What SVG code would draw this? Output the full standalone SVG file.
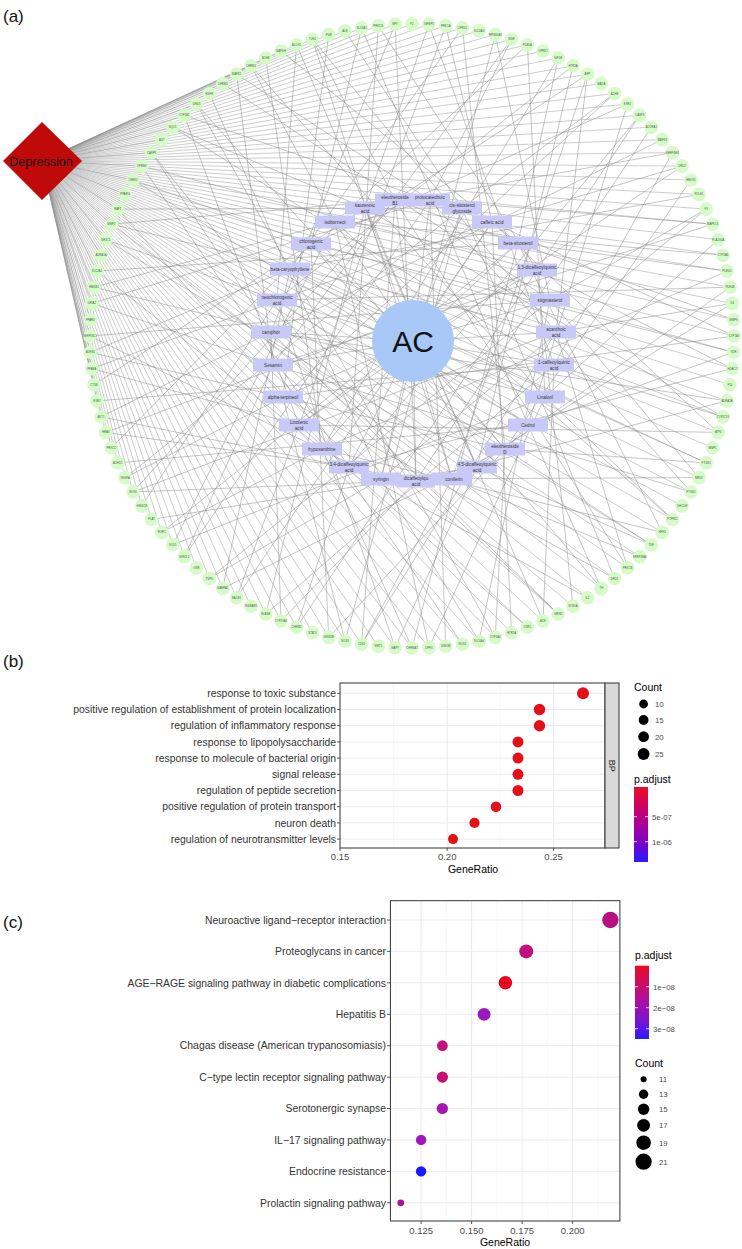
<svg xmlns="http://www.w3.org/2000/svg" width="742" height="1249" viewBox="0 0 742 1249">
<defs>
<style>
text{font-family:"Liberation Sans",Arial,sans-serif}
.pl{font-size:17px;fill:#111}
.edge{fill:none;stroke:#8a8a8a;stroke-width:0.5}
.dep{fill:none;stroke:#8f8f8f;stroke-width:0.45}
.gn circle{fill:#d5fbc7}
.gn text{font-size:2.8px;fill:#555;text-anchor:middle}
.cp rect{fill:#c9c9f7}
.cp text{font-size:4.6px;fill:#333;text-anchor:middle}
.yl{font-size:10.4px;fill:#333;text-anchor:end}
.xl{font-size:9.5px;fill:#4d4d4d;text-anchor:middle}
.tt{font-size:10.5px;fill:#000}
.lg{font-size:7.8px;fill:#4d4d4d}
.grid{stroke:#ebebeb;stroke-width:1}
.gridm{stroke:#f4f4f4;stroke-width:0.6}
.frame{fill:none;stroke:#333;stroke-width:1}
.tick{stroke:#333;stroke-width:0.8}
.cbt{stroke:#fff;stroke-width:0.8}
</style>
<linearGradient id="gradB" x1="0" y1="0" x2="0" y2="1">
<stop offset="0" stop-color="#ec0c26"/>
<stop offset="0.45" stop-color="#b3008f"/>
<stop offset="0.75" stop-color="#7a00c8"/>
<stop offset="1" stop-color="#2a1cff"/>
</linearGradient>
<linearGradient id="gradC" x1="0" y1="0" x2="0" y2="1">
<stop offset="0" stop-color="#ec0a1f"/>
<stop offset="0.45" stop-color="#b2109a"/>
<stop offset="0.75" stop-color="#7a14d0"/>
<stop offset="1" stop-color="#2b1bff"/>
</linearGradient>
</defs>
<rect width="742" height="1249" fill="#fff"/>

<text class="pl" x="3" y="22">(a)</text>
<text class="pl" x="3" y="667">(b)</text>
<text class="pl" x="3" y="928">(c)</text>

<g id="connectors">
<path class="dep" d="M42 161L412 24M42 161L428.9 24.4M42 161L445.7 25.7M42 161L462.4 27.8M42 161L479 30.8M42 161L495.3 34.6M42 161L511.5 39.3M42 161L527.4 44.7M42 161L543 51M42 161L558.2 58M42 161L573 65.8M42 161L587.4 74.3M42 161L601.3 83.6M42 161L614.6 93.5M42 161L627.5 104.1M42 161L639.7 115.4M42 161L651.3 127.2M42 161L662.2 139.6M42 161L672.5 152.6M42 161L682.1 166.1M42 161L690.9 180M42 161L698.9 194.4M42 161L706.2 209.1M42 161L712.6 224.2M42 161L718.2 239.6M42 161L723 255.2M42 161L727 271.1M42 161L730 287.2M42 161L732.2 303.4M42 161L733.6 319.7M42 161L734 336M42 161L733.6 352.3M42 161L732.2 368.6M42 161L730 384.8M42 161L727 400.9M42 161L723 416.8M42 161L718.2 432.4M42 161L712.6 447.8M42 161L706.2 462.9M42 161L698.9 477.6M42 161L690.9 492M42 161L682.1 505.9M42 161L672.5 519.4M42 161L662.2 532.4M42 161L651.3 544.8M42 161L639.7 556.6M42 161L627.5 567.9M42 161L614.6 578.5M42 161L601.3 588.4M42 161L587.4 597.7M42 161L573 606.2M42 161L558.2 614M42 161L543 621M42 161L527.4 627.3M42 161L511.5 632.7M42 161L495.3 637.4M42 161L479 641.2M42 161L462.4 644.2M42 161L445.7 646.3M42 161L428.9 647.6M42 161L412 648M42 161L395.1 647.6M42 161L378.3 646.3M42 161L361.6 644.2M42 161L345 641.2M42 161L328.7 637.4M42 161L312.5 632.7M42 161L296.6 627.3M42 161L281 621M42 161L265.8 614M42 161L251 606.2M42 161L236.6 597.7M42 161L222.7 588.4M42 161L209.4 578.5M42 161L196.5 567.9M42 161L184.3 556.6M42 161L172.7 544.8M42 161L161.8 532.4M42 161L151.5 519.4M42 161L141.9 505.9M42 161L133.1 492M42 161L125.1 477.6M42 161L117.8 462.9M42 161L111.4 447.8M42 161L105.8 432.4M42 161L101 416.8M42 161L97 400.9M42 161L94 384.8M42 161L91.8 368.6M42 161L90.4 352.3M42 161L90 336M42 161L90.4 319.7M42 161L91.8 303.4M42 161L94 287.2M42 161L97 271.1M42 161L101 255.2M42 161L105.8 239.6M42 161L111.4 224.2M42 161L117.8 209.1M42 161L125.1 194.4M42 161L133.1 180M42 161L141.9 166.1M42 161L151.5 152.6M42 161L161.8 139.6M42 161L172.7 127.2M42 161L184.3 115.4M42 161L196.5 104.1M42 161L209.4 93.5M42 161L222.7 83.6M42 161L236.6 74.3M42 161L251 65.8M42 161L265.8 58M42 161L281 51M42 161L296.6 44.7M42 161L312.5 39.3M42 161L328.7 34.6M42 161L345 30.8M42 161L361.6 27.8M42 161L378.3 25.7M42 161L395.1 24.4"/>
<path class="edge" d="M395 200L733.6 319.7M395 200L627.5 567.9M395 200L361.6 644.2M395 200L133.1 492M395 200L111.4 224.2M395 200L312.5 39.3M395 200L587.4 74.3M430 200L445.7 646.3M430 200L184.3 556.6M430 200L91.8 303.4M430 200L236.6 74.3M430 200L511.5 39.3M430 200L712.6 224.2M430 200L690.9 492M365 208L94 384.8M365 208L172.7 127.2M365 208L428.9 24.4M365 208L672.5 152.6M365 208L723 416.8M365 208L543 621M365 208L265.8 614M462 208L345 30.8M462 208L614.6 93.5M462 208L734 336M462 208L614.6 578.5M462 208L345 641.2M462 208L125.1 477.6M462 208L117.8 209.1M335 222L723 255.2M335 222L672.5 519.4M335 222L428.9 647.6M335 222L172.7 544.8M335 222L94 287.2M335 222L251 65.8M335 222L527.4 44.7M492 222L511.5 632.7M492 222L236.6 597.7M492 222L91.8 368.6M492 222L184.3 115.4M492 222L445.7 25.7M492 222L682.1 166.1M492 222L718.2 432.4M311 244L111.4 447.8M311 244L133.1 180M311 244L361.6 27.8M311 244L627.5 104.1M311 244L733.6 352.3M311 244L601.3 588.4M311 244L328.7 637.4M518 243L281 51M518 243L558.2 58M518 243L727 271.1M518 243L662.2 532.4M518 243L412 648M518 243L161.8 532.4M518 243L97 271.1M290 269L698.9 194.4M290 269L706.2 462.9M290 269L495.3 637.4M290 269L222.7 588.4M290 269L90.4 352.3M290 269L196.5 104.1M290 269L462.4 27.8M537 270L573 606.2M537 270L296.6 627.3M537 270L105.8 432.4M537 270L141.9 166.1M537 270L378.3 25.7M537 270L639.7 115.4M537 270L732.2 368.6M277 300L141.9 505.9M277 300L105.8 239.6M277 300L296.6 44.7M277 300L573 65.8M277 300L730 287.2M277 300L651.3 544.8M277 300L395.1 647.6M550 300L222.7 83.6M550 300L495.3 34.6M550 300L706.2 209.1M550 300L698.9 477.6M550 300L479 641.2M550 300L209.4 578.5M550 300L90 336M271 332L662.2 139.6M271 332L727 400.9M271 332L558.2 614M271 332L281 621M271 332L101 416.8M271 332L151.5 152.6M271 332L395.1 24.4M556 332L627.5 567.9M556 332L361.6 644.2M556 332L133.1 492M556 332L111.4 224.2M556 332L312.5 39.3M556 332L587.4 74.3M556 332L732.2 303.4M273 365L184.3 556.6M273 365L91.8 303.4M273 365L236.6 74.3M273 365L511.5 39.3M273 365L712.6 224.2M273 365L690.9 492M273 365L462.4 644.2M554 365L172.7 127.2M554 365L428.9 24.4M554 365L672.5 152.6M554 365L723 416.8M554 365L543 621M554 365L265.8 614M554 365L97 400.9M283 397L614.6 93.5M283 397L734 336M283 397L614.6 578.5M283 397L345 641.2M283 397L125.1 477.6M283 397L117.8 209.1M283 397L328.7 34.6M545 397L672.5 519.4M545 397L428.9 647.6M545 397L172.7 544.8M545 397L94 287.2M545 397L251 65.8M545 397L527.4 44.7M545 397L718.2 239.6M299 425L236.6 597.7M299 425L91.8 368.6M299 425L184.3 115.4M299 425L445.7 25.7M299 425L682.1 166.1M299 425L718.2 432.4M299 425L527.4 627.3M528 425L133.1 180M528 425L361.6 27.8M528 425L627.5 104.1M528 425L733.6 352.3M528 425L601.3 588.4M528 425L328.7 637.4M528 425L117.8 462.9M322 449L558.2 58M322 449L727 271.1M322 449L662.2 532.4M322 449L412 648M322 449L161.8 532.4M322 449L97 271.1M322 449L265.8 58M505 449L706.2 462.9M505 449L495.3 637.4M505 449L222.7 588.4M505 449L90.4 352.3M505 449L196.5 104.1M505 449L462.4 27.8M505 449L690.9 180M349 467L296.6 627.3M349 467L105.8 432.4M349 467L141.9 166.1M349 467L378.3 25.7M349 467L639.7 115.4M349 467L732.2 368.6M349 467L587.4 597.7M477 467L105.8 239.6M477 467L296.6 44.7M477 467L573 65.8M477 467L730 287.2M477 467L651.3 544.8M477 467L395.1 647.6M477 467L151.5 519.4M381 479L495.3 34.6M381 479L706.2 209.1M381 479L698.9 477.6M381 479L479 641.2M381 479L209.4 578.5M381 479L90 336M381 479L209.4 93.5M416 481L727 400.9M416 481L558.2 614M416 481L281 621M416 481L101 416.8M416 481L151.5 152.6M416 481L395.1 24.4M416 481L651.3 127.2M452 479L361.6 644.2M452 479L133.1 492M452 479L111.4 224.2M452 479L312.5 39.3M452 479L587.4 74.3M452 479L732.2 303.4M452 479L639.7 556.6"/>
<path class="edge" d="M413 341L395 200M413 341L430 200M413 341L365 208M413 341L462 208M413 341L335 222M413 341L492 222M413 341L311 244M413 341L518 243M413 341L290 269M413 341L537 270M413 341L277 300M413 341L550 300M413 341L271 332M413 341L556 332M413 341L273 365M413 341L554 365M413 341L283 397M413 341L545 397M413 341L299 425M413 341L528 425M413 341L322 449M413 341L505 449M413 341L349 467M413 341L477 467M413 341L381 479M413 341L416 481M413 341L452 479"/>
</g>

<g id="depression">
<polygon points="42,122 82,161 42,200 3,161" fill="#c00a0a"/>
<text x="41" y="165.5" font-size="12.6" text-anchor="middle" fill="#111">Depression</text>
</g>

<g id="targets">
<g id="g-F2" class="gn"><circle cx="412" cy="24" r="6.8"/><text x="412" y="25">F2</text></g>
<g id="g-IGFBP3" class="gn"><circle cx="428.9" cy="24.4" r="6.8"/><text x="428.9" y="25.4">IGFBP3</text></g>
<g id="g-PRKCA" class="gn"><circle cx="445.7" cy="25.7" r="6.8"/><text x="445.7" y="26.7">PRKCA</text></g>
<g id="g-OPRD1" class="gn"><circle cx="462.4" cy="27.8" r="6.8"/><text x="462.4" y="28.8">OPRD1</text></g>
<g id="g-SLC6A3" class="gn"><circle cx="479" cy="30.8" r="6.8"/><text x="479" y="31.8">SLC6A3</text></g>
<g id="g-RPS6KA3" class="gn"><circle cx="495.3" cy="34.6" r="6.8"/><text x="495.3" y="35.6">RPS6KA3</text></g>
<g id="g-INSR" class="gn"><circle cx="511.5" cy="39.3" r="6.8"/><text x="511.5" y="40.3">INSR</text></g>
<g id="g-PDE5A" class="gn"><circle cx="527.4" cy="44.7" r="6.8"/><text x="527.4" y="45.7">PDE5A</text></g>
<g id="g-OPRK1" class="gn"><circle cx="543" cy="51" r="6.8"/><text x="543" y="52">OPRK1</text></g>
<g id="g-IGF1R" class="gn"><circle cx="558.2" cy="58" r="6.8"/><text x="558.2" y="59">IGF1R</text></g>
<g id="g-HTR2A" class="gn"><circle cx="573" cy="65.8" r="6.8"/><text x="573" y="66.8">HTR2A</text></g>
<g id="g-APP" class="gn"><circle cx="587.4" cy="74.3" r="6.8"/><text x="587.4" y="75.3">APP</text></g>
<g id="g-MAOA" class="gn"><circle cx="601.3" cy="83.6" r="6.8"/><text x="601.3" y="84.6">MAOA</text></g>
<g id="g-ACHE" class="gn"><circle cx="614.6" cy="93.5" r="6.8"/><text x="614.6" y="94.5">ACHE</text></g>
<g id="g-ESR1" class="gn"><circle cx="627.5" cy="104.1" r="6.8"/><text x="627.5" y="105.1">ESR1</text></g>
<g id="g-CASP3" class="gn"><circle cx="639.7" cy="115.4" r="6.8"/><text x="639.7" y="116.4">CASP3</text></g>
<g id="g-ADORA1" class="gn"><circle cx="651.3" cy="127.2" r="6.8"/><text x="651.3" y="128.2">ADORA1</text></g>
<g id="g-MAPK8" class="gn"><circle cx="662.2" cy="139.6" r="6.8"/><text x="662.2" y="140.6">MAPK8</text></g>
<g id="g-SERPINE1" class="gn"><circle cx="672.5" cy="152.6" r="6.8"/><text x="672.5" y="153.6">SERPINE1</text></g>
<g id="g-DRD2" class="gn"><circle cx="682.1" cy="166.1" r="6.8"/><text x="682.1" y="167.1">DRD2</text></g>
<g id="g-HMOX1" class="gn"><circle cx="690.9" cy="180" r="6.8"/><text x="690.9" y="181">HMOX1</text></g>
<g id="g-FOLH1" class="gn"><circle cx="698.9" cy="194.4" r="6.8"/><text x="698.9" y="195.4">FOLH1</text></g>
<g id="g-F3" class="gn"><circle cx="706.2" cy="209.1" r="6.8"/><text x="706.2" y="210.1">F3</text></g>
<g id="g-MAPK14" class="gn"><circle cx="712.6" cy="224.2" r="6.8"/><text x="712.6" y="225.2">MAPK14</text></g>
<g id="g-PLA2G4A" class="gn"><circle cx="718.2" cy="239.6" r="6.8"/><text x="718.2" y="240.6">PLA2G4A</text></g>
<g id="g-CYP2A6" class="gn"><circle cx="723" cy="255.2" r="6.8"/><text x="723" y="256.2">CYP2A6</text></g>
<g id="g-PDE4D" class="gn"><circle cx="727" cy="271.1" r="6.8"/><text x="727" y="272.1">PDE4D</text></g>
<g id="g-PDE4B" class="gn"><circle cx="730" cy="287.2" r="6.8"/><text x="730" y="288.2">PDE4B</text></g>
<g id="g-IL6" class="gn"><circle cx="732.2" cy="303.4" r="6.8"/><text x="732.2" y="304.4">IL6</text></g>
<g id="g-MMP9" class="gn"><circle cx="733.6" cy="319.7" r="6.8"/><text x="733.6" y="320.7">MMP9</text></g>
<g id="g-CYP1A2" class="gn"><circle cx="734" cy="336" r="6.8"/><text x="734" y="337">CYP1A2</text></g>
<g id="g-VDR" class="gn"><circle cx="733.6" cy="352.3" r="6.8"/><text x="733.6" y="353.3">VDR</text></g>
<g id="g-HDAC2" class="gn"><circle cx="732.2" cy="368.6" r="6.8"/><text x="732.2" y="369.6">HDAC2</text></g>
<g id="g-F10" class="gn"><circle cx="730" cy="384.8" r="6.8"/><text x="730" y="385.8">F10</text></g>
<g id="g-ADRA2A" class="gn"><circle cx="727" cy="400.9" r="6.8"/><text x="727" y="401.9">ADRA2A</text></g>
<g id="g-CYP2C19" class="gn"><circle cx="723" cy="416.8" r="6.8"/><text x="723" y="417.8">CYP2C19</text></g>
<g id="g-ATF4" class="gn"><circle cx="718.2" cy="432.4" r="6.8"/><text x="718.2" y="433.4">ATF4</text></g>
<g id="g-MMP1" class="gn"><circle cx="712.6" cy="447.8" r="6.8"/><text x="712.6" y="448.8">MMP1</text></g>
<g id="g-PTGS1" class="gn"><circle cx="706.2" cy="462.9" r="6.8"/><text x="706.2" y="463.9">PTGS1</text></g>
<g id="g-NR1I2" class="gn"><circle cx="698.9" cy="477.6" r="6.8"/><text x="698.9" y="478.6">NR1I2</text></g>
<g id="g-PTGS2" class="gn"><circle cx="690.9" cy="492" r="6.8"/><text x="690.9" y="493">PTGS2</text></g>
<g id="g-DHODH" class="gn"><circle cx="682.1" cy="505.9" r="6.8"/><text x="682.1" y="506.9">DHODH</text></g>
<g id="g-PTPN11" class="gn"><circle cx="672.5" cy="519.4" r="6.8"/><text x="672.5" y="520.4">PTPN11</text></g>
<g id="g-HRH1" class="gn"><circle cx="662.2" cy="532.4" r="6.8"/><text x="662.2" y="533.4">HRH1</text></g>
<g id="g-TNF" class="gn"><circle cx="651.3" cy="544.8" r="6.8"/><text x="651.3" y="545.8">TNF</text></g>
<g id="g-SERPINA6" class="gn"><circle cx="639.7" cy="556.6" r="6.8"/><text x="639.7" y="557.6">SERPINA6</text></g>
<g id="g-PRKCB" class="gn"><circle cx="627.5" cy="567.9" r="6.8"/><text x="627.5" y="568.9">PRKCB</text></g>
<g id="g-DRD1" class="gn"><circle cx="614.6" cy="578.5" r="6.8"/><text x="614.6" y="579.5">DRD1</text></g>
<g id="g-TH" class="gn"><circle cx="601.3" cy="588.4" r="6.8"/><text x="601.3" y="589.4">TH</text></g>
<g id="g-IL2" class="gn"><circle cx="587.4" cy="597.7" r="6.8"/><text x="587.4" y="598.7">IL2</text></g>
<g id="g-SCN5A" class="gn"><circle cx="573" cy="606.2" r="6.8"/><text x="573" y="607.2">SCN5A</text></g>
<g id="g-GRIN1" class="gn"><circle cx="558.2" cy="614" r="6.8"/><text x="558.2" y="615">GRIN1</text></g>
<g id="g-ACE" class="gn"><circle cx="543" cy="621" r="6.8"/><text x="543" y="622">ACE</text></g>
<g id="g-CNR1" class="gn"><circle cx="527.4" cy="627.3" r="6.8"/><text x="527.4" y="628.3">CNR1</text></g>
<g id="g-HTR1A" class="gn"><circle cx="511.5" cy="632.7" r="6.8"/><text x="511.5" y="633.7">HTR1A</text></g>
<g id="g-CYP3A4" class="gn"><circle cx="495.3" cy="637.4" r="6.8"/><text x="495.3" y="638.4">CYP3A4</text></g>
<g id="g-SLC6A4" class="gn"><circle cx="479" cy="641.2" r="6.8"/><text x="479" y="642.2">SLC6A4</text></g>
<g id="g-NOS2" class="gn"><circle cx="462.4" cy="644.2" r="6.8"/><text x="462.4" y="645.2">NOS2</text></g>
<g id="g-GSK3B" class="gn"><circle cx="445.7" cy="646.3" r="6.8"/><text x="445.7" y="647.3">GSK3B</text></g>
<g id="g-DPP4" class="gn"><circle cx="428.9" cy="647.6" r="6.8"/><text x="428.9" y="648.6">DPP4</text></g>
<g id="g-CHRNA7" class="gn"><circle cx="412" cy="648" r="6.8"/><text x="412" y="649">CHRNA7</text></g>
<g id="g-MAPT" class="gn"><circle cx="395.1" cy="647.6" r="6.8"/><text x="395.1" y="648.6">MAPT</text></g>
<g id="g-SIRT1" class="gn"><circle cx="378.3" cy="646.3" r="6.8"/><text x="378.3" y="647.3">SIRT1</text></g>
<g id="g-CDK2" class="gn"><circle cx="361.6" cy="644.2" r="6.8"/><text x="361.6" y="645.2">CDK2</text></g>
<g id="g-NOS3" class="gn"><circle cx="345" cy="641.2" r="6.8"/><text x="345" y="642.2">NOS3</text></g>
<g id="g-GRIN2B" class="gn"><circle cx="328.7" cy="637.4" r="6.8"/><text x="328.7" y="638.4">GRIN2B</text></g>
<g id="g-STAT3" class="gn"><circle cx="312.5" cy="632.7" r="6.8"/><text x="312.5" y="633.7">STAT3</text></g>
<g id="g-CHRM2" class="gn"><circle cx="296.6" cy="627.3" r="6.8"/><text x="296.6" y="628.3">CHRM2</text></g>
<g id="g-CYP19A1" class="gn"><circle cx="281" cy="621" r="6.8"/><text x="281" y="622">CYP19A1</text></g>
<g id="g-ELANE" class="gn"><circle cx="265.8" cy="614" r="6.8"/><text x="265.8" y="615">ELANE</text></g>
<g id="g-SIGMAR1" class="gn"><circle cx="251" cy="606.2" r="6.8"/><text x="251" y="607.2">SIGMAR1</text></g>
<g id="g-BACE1" class="gn"><circle cx="236.6" cy="597.7" r="6.8"/><text x="236.6" y="598.7">BACE1</text></g>
<g id="g-GABRA1" class="gn"><circle cx="222.7" cy="588.4" r="6.8"/><text x="222.7" y="589.4">GABRA1</text></g>
<g id="g-TSPO" class="gn"><circle cx="209.4" cy="578.5" r="6.8"/><text x="209.4" y="579.5">TSPO</text></g>
<g id="g-GSR" class="gn"><circle cx="196.5" cy="567.9" r="6.8"/><text x="196.5" y="568.9">GSR</text></g>
<g id="g-NFE2L2" class="gn"><circle cx="184.3" cy="556.6" r="6.8"/><text x="184.3" y="557.6">NFE2L2</text></g>
<g id="g-SOD1" class="gn"><circle cx="172.7" cy="544.8" r="6.8"/><text x="172.7" y="545.8">SOD1</text></g>
<g id="g-RORC" class="gn"><circle cx="161.8" cy="532.4" r="6.8"/><text x="161.8" y="533.4">RORC</text></g>
<g id="g-PLAT" class="gn"><circle cx="151.5" cy="519.4" r="6.8"/><text x="151.5" y="520.4">PLAT</text></g>
<g id="g-HMGCR" class="gn"><circle cx="141.9" cy="505.9" r="6.8"/><text x="141.9" y="506.9">HMGCR</text></g>
<g id="g-NOS1" class="gn"><circle cx="133.1" cy="492" r="6.8"/><text x="133.1" y="493">NOS1</text></g>
<g id="g-VEGFA" class="gn"><circle cx="125.1" cy="477.6" r="6.8"/><text x="125.1" y="478.6">VEGFA</text></g>
<g id="g-ADH1C" class="gn"><circle cx="117.8" cy="462.9" r="6.8"/><text x="117.8" y="463.9">ADH1C</text></g>
<g id="g-PRKCD" class="gn"><circle cx="111.4" cy="447.8" r="6.8"/><text x="111.4" y="448.8">PRKCD</text></g>
<g id="g-HRAS" class="gn"><circle cx="105.8" cy="432.4" r="6.8"/><text x="105.8" y="433.4">HRAS</text></g>
<g id="g-AKT1" class="gn"><circle cx="101" cy="416.8" r="6.8"/><text x="101" y="417.8">AKT1</text></g>
<g id="g-ESR2" class="gn"><circle cx="97" cy="400.9" r="6.8"/><text x="97" y="401.9">ESR2</text></g>
<g id="g-CTSB" class="gn"><circle cx="94" cy="384.8" r="6.8"/><text x="94" y="385.8">CTSB</text></g>
<g id="g-PPARA" class="gn"><circle cx="91.8" cy="368.6" r="6.8"/><text x="91.8" y="369.6">PPARA</text></g>
<g id="g-ADRB1" class="gn"><circle cx="90.4" cy="352.3" r="6.8"/><text x="90.4" y="353.3">ADRB1</text></g>
<g id="g-SERPINC1" class="gn"><circle cx="90" cy="336" r="6.8"/><text x="90" y="337">SERPINC1</text></g>
<g id="g-PPARD" class="gn"><circle cx="90.4" cy="319.7" r="6.8"/><text x="90.4" y="320.7">PPARD</text></g>
<g id="g-GRIA2" class="gn"><circle cx="91.8" cy="303.4" r="6.8"/><text x="91.8" y="304.4">GRIA2</text></g>
<g id="g-HMGB1" class="gn"><circle cx="94" cy="287.2" r="6.8"/><text x="94" y="288.2">HMGB1</text></g>
<g id="g-SLC2A1" class="gn"><circle cx="97" cy="271.1" r="6.8"/><text x="97" y="272.1">SLC2A1</text></g>
<g id="g-ADRA1A" class="gn"><circle cx="101" cy="255.2" r="6.8"/><text x="101" y="256.2">ADRA1A</text></g>
<g id="g-NR3C1" class="gn"><circle cx="105.8" cy="239.6" r="6.8"/><text x="105.8" y="240.6">NR3C1</text></g>
<g id="g-MMP2" class="gn"><circle cx="111.4" cy="224.2" r="6.8"/><text x="111.4" y="225.2">MMP2</text></g>
<g id="g-RAF1" class="gn"><circle cx="117.8" cy="209.1" r="6.8"/><text x="117.8" y="210.1">RAF1</text></g>
<g id="g-PPARG" class="gn"><circle cx="125.1" cy="194.4" r="6.8"/><text x="125.1" y="195.4">PPARG</text></g>
<g id="g-LRRK2" class="gn"><circle cx="133.1" cy="180" r="6.8"/><text x="133.1" y="181">LRRK2</text></g>
<g id="g-OPRM1" class="gn"><circle cx="141.9" cy="166.1" r="6.8"/><text x="141.9" y="167.1">OPRM1</text></g>
<g id="g-CASP8" class="gn"><circle cx="151.5" cy="152.6" r="6.8"/><text x="151.5" y="153.6">CASP8</text></g>
<g id="g-AGT" class="gn"><circle cx="161.8" cy="139.6" r="6.8"/><text x="161.8" y="140.6">AGT</text></g>
<g id="g-NQO1" class="gn"><circle cx="172.7" cy="127.2" r="6.8"/><text x="172.7" y="128.2">NQO1</text></g>
<g id="g-CYP1B1" class="gn"><circle cx="184.3" cy="115.4" r="6.8"/><text x="184.3" y="116.4">CYP1B1</text></g>
<g id="g-DRD3" class="gn"><circle cx="196.5" cy="104.1" r="6.8"/><text x="196.5" y="105.1">DRD3</text></g>
<g id="g-EGFR" class="gn"><circle cx="209.4" cy="93.5" r="6.8"/><text x="209.4" y="94.5">EGFR</text></g>
<g id="g-CHRM3" class="gn"><circle cx="222.7" cy="83.6" r="6.8"/><text x="222.7" y="84.6">CHRM3</text></g>
<g id="g-MAPK1" class="gn"><circle cx="236.6" cy="74.3" r="6.8"/><text x="236.6" y="75.3">MAPK1</text></g>
<g id="g-CHRM1" class="gn"><circle cx="251" cy="65.8" r="6.8"/><text x="251" y="66.8">CHRM1</text></g>
<g id="g-BCHE" class="gn"><circle cx="265.8" cy="58" r="6.8"/><text x="265.8" y="59">BCHE</text></g>
<g id="g-GAPDH" class="gn"><circle cx="281" cy="51" r="6.8"/><text x="281" y="52">GAPDH</text></g>
<g id="g-ALOX5" class="gn"><circle cx="296.6" cy="44.7" r="6.8"/><text x="296.6" y="45.7">ALOX5</text></g>
<g id="g-TLR4" class="gn"><circle cx="312.5" cy="39.3" r="6.8"/><text x="312.5" y="40.3">TLR4</text></g>
<g id="g-PGR" class="gn"><circle cx="328.7" cy="34.6" r="6.8"/><text x="328.7" y="35.6">PGR</text></g>
<g id="g-ALB" class="gn"><circle cx="345" cy="30.8" r="6.8"/><text x="345" y="31.8">ALB</text></g>
<g id="g-SLC6A2" class="gn"><circle cx="361.6" cy="27.8" r="6.8"/><text x="361.6" y="28.8">SLC6A2</text></g>
<g id="g-PRKCG" class="gn"><circle cx="378.3" cy="25.7" r="6.8"/><text x="378.3" y="26.7">PRKCG</text></g>
<g id="g-NPY" class="gn"><circle cx="395.1" cy="24.4" r="6.8"/><text x="395.1" y="25.4">NPY</text></g>
</g>

<g id="compounds">
<g id="c-eleutheroside-B1" class="cp"><rect x="375" y="193.5" width="40" height="13"/><text x="395" y="199.2">eleutheroside</text><text x="395" y="204.6">B1</text></g>
<g id="c-protocatechuic-acid" class="cp"><rect x="410" y="193.5" width="40" height="13"/><text x="430" y="199.2">protocatechuic</text><text x="430" y="204.6">acid</text></g>
<g id="c-kaurenoic-acid" class="cp"><rect x="345" y="201.5" width="40" height="13"/><text x="365" y="207.2">kaurenoic</text><text x="365" y="212.6">acid</text></g>
<g id="c-sitosterol-glycoside" class="cp"><rect x="442" y="201.5" width="40" height="13"/><text x="462" y="207.2">cis-sitosterol</text><text x="462" y="212.6">glycoside</text></g>
<g id="c-isoborneol" class="cp"><rect x="315" y="215.5" width="40" height="13"/><text x="335" y="223.6">isoborneol</text></g>
<g id="c-caffeic-acid" class="cp"><rect x="472" y="215.5" width="40" height="13"/><text x="492" y="223.6">caffeic acid</text></g>
<g id="c-chlorogenic-acid" class="cp"><rect x="291" y="237.5" width="40" height="13"/><text x="311" y="243.2">chlorogenic</text><text x="311" y="248.6">acid</text></g>
<g id="c-beta-sitosterol" class="cp"><rect x="498" y="236.5" width="40" height="13"/><text x="518" y="244.6">beta-sitosterol</text></g>
<g id="c-beta-caryophyllene" class="cp"><rect x="270" y="262.5" width="40" height="13"/><text x="290" y="270.6">beta-caryophyllene</text></g>
<g id="c-13-dicaffeoylquinic-acid" class="cp"><rect x="517" y="263.5" width="40" height="13"/><text x="537" y="269.2">1,3-dicaffeoylquinic</text><text x="537" y="274.6">acid</text></g>
<g id="c-neochlorogenic-acid" class="cp"><rect x="257" y="293.5" width="40" height="13"/><text x="277" y="299.2">neochlorogenic</text><text x="277" y="304.6">acid</text></g>
<g id="c-stigmasterol" class="cp"><rect x="530" y="293.5" width="40" height="13"/><text x="550" y="301.6">stigmasterol</text></g>
<g id="c-camphor" class="cp"><rect x="251" y="325.5" width="40" height="13"/><text x="271" y="333.6">camphor</text></g>
<g id="c-acanthoic-acid" class="cp"><rect x="536" y="325.5" width="40" height="13"/><text x="556" y="331.2">acanthoic</text><text x="556" y="336.6">acid</text></g>
<g id="c-Sesamin" class="cp"><rect x="253" y="358.5" width="40" height="13"/><text x="273" y="366.6">Sesamin</text></g>
<g id="c-1-caffeoylquinic-acid" class="cp"><rect x="534" y="358.5" width="40" height="13"/><text x="554" y="364.2">1-caffeoylquinic</text><text x="554" y="369.6">acid</text></g>
<g id="c-alpha-terpineol" class="cp"><rect x="263" y="390.5" width="40" height="13"/><text x="283" y="398.6">alpha-terpineol</text></g>
<g id="c-Linalool" class="cp"><rect x="525" y="390.5" width="40" height="13"/><text x="545" y="398.6">Linalool</text></g>
<g id="c-Linolenic-acid" class="cp"><rect x="279" y="418.5" width="40" height="13"/><text x="299" y="424.2">Linolenic</text><text x="299" y="429.6">acid</text></g>
<g id="c-Cedrol" class="cp"><rect x="508" y="418.5" width="40" height="13"/><text x="528" y="426.6">Cedrol</text></g>
<g id="c-hypoxanthine" class="cp"><rect x="302" y="442.5" width="40" height="13"/><text x="322" y="450.6">hypoxanthine</text></g>
<g id="c-eleutheroside-D" class="cp"><rect x="485" y="442.5" width="40" height="13"/><text x="505" y="448.2">eleutheroside</text><text x="505" y="453.6">D</text></g>
<g id="c-34-dicaffeoylquinic-acid" class="cp"><rect x="329" y="460.5" width="40" height="13"/><text x="349" y="466.2">3,4-dicaffeoylquinic</text><text x="349" y="471.6">acid</text></g>
<g id="c-45-dicaffeoylquinic-acid" class="cp"><rect x="457" y="460.5" width="40" height="13"/><text x="477" y="466.2">4,5-dicaffeoylquinic</text><text x="477" y="471.6">acid</text></g>
<g id="c-syringin" class="cp"><rect x="361" y="472.5" width="40" height="13"/><text x="381" y="480.6">syringin</text></g>
<g id="c-coniferin" class="cp"><rect x="432" y="472.5" width="40" height="13"/><text x="454" y="480.6">coniferin</text></g>
<g id="c-dicaffeoylquinic-acid" class="cp"><rect x="397" y="474.5" width="38" height="13"/><text x="416" y="480.2">dicaffeoylqu</text><text x="416" y="485.6">acid</text></g>
</g>

<g id="AC">
<circle cx="413" cy="341" r="41" fill="#a8c8f8"/>
<text x="413" y="352" font-size="30" text-anchor="middle" fill="#111">AC</text>
</g>

<g id="panel-b">
<rect x="340" y="683" width="265" height="165" fill="#fff"/>
<g class="gridm"><line x1="393.5" y1="683" x2="393.5" y2="848"/><line x1="500.4" y1="683" x2="500.4" y2="848"/></g>
<g class="grid">
<line x1="447.2" y1="683" x2="447.2" y2="848"/><line x1="553.6" y1="683" x2="553.6" y2="848"/>
<line x1="340" y1="693.3" x2="605" y2="693.3"/><line x1="340" y1="709.5" x2="605" y2="709.5"/><line x1="340" y1="725.7" x2="605" y2="725.7"/><line x1="340" y1="741.9" x2="605" y2="741.9"/><line x1="340" y1="758.1" x2="605" y2="758.1"/><line x1="340" y1="774.3" x2="605" y2="774.3"/><line x1="340" y1="790.5" x2="605" y2="790.5"/><line x1="340" y1="806.7" x2="605" y2="806.7"/><line x1="340" y1="822.9" x2="605" y2="822.9"/><line x1="340" y1="839.1" x2="605" y2="839.1"/>
</g>
<g fill="#e3101a">
<circle cx="583" cy="693.3" r="6"/><circle cx="539.5" cy="709.5" r="5.7"/><circle cx="539.5" cy="725.7" r="5.7"/><circle cx="518" cy="741.9" r="5.5"/><circle cx="518" cy="758.1" r="5.5"/><circle cx="518" cy="774.3" r="5.5"/><circle cx="518" cy="790.5" r="5.5"/><circle cx="496" cy="806.7" r="5.3"/><circle cx="474.5" cy="822.9" r="5.1"/><circle cx="453" cy="839.1" r="5"/>
</g>
<rect class="frame" x="340" y="683" width="265" height="165"/>
<rect x="605" y="683" width="14" height="165" fill="#d9d9d9" stroke="#333" stroke-width="1"/>
<text x="612" y="765.8" font-size="9" fill="#1a1a1a" text-anchor="middle" transform="rotate(90 612 765.8)" dy="3">BP</text>
<g class="tick">
<line x1="337" y1="693.3" x2="340" y2="693.3"/><line x1="337" y1="709.5" x2="340" y2="709.5"/><line x1="337" y1="725.7" x2="340" y2="725.7"/><line x1="337" y1="741.9" x2="340" y2="741.9"/><line x1="337" y1="758.1" x2="340" y2="758.1"/><line x1="337" y1="774.3" x2="340" y2="774.3"/><line x1="337" y1="790.5" x2="340" y2="790.5"/><line x1="337" y1="806.7" x2="340" y2="806.7"/><line x1="337" y1="822.9" x2="340" y2="822.9"/><line x1="337" y1="839.1" x2="340" y2="839.1"/>
<line x1="340" y1="848" x2="340" y2="851"/><line x1="447.2" y1="848" x2="447.2" y2="851"/><line x1="553.6" y1="848" x2="553.6" y2="851"/>
</g>
<text class="yl" x="336" y="697">response to toxic substance</text>
<text class="yl" x="336" y="713.2">positive regulation of establishment of protein localization</text>
<text class="yl" x="336" y="729.4">regulation of inflammatory response</text>
<text class="yl" x="336" y="745.6">response to lipopolysaccharide</text>
<text class="yl" x="336" y="761.8">response to molecule of bacterial origin</text>
<text class="yl" x="336" y="778">signal release</text>
<text class="yl" x="336" y="794.2">regulation of peptide secretion</text>
<text class="yl" x="336" y="810.4">positive regulation of protein transport</text>
<text class="yl" x="336" y="826.6">neuron death</text>
<text class="yl" x="336" y="842.8">regulation of neurotransmitter levels</text>
<text class="xl" x="340" y="860">0.15</text>
<text class="xl" x="447.2" y="860">0.20</text>
<text class="xl" x="553.6" y="860">0.25</text>
<text class="tt" x="473" y="873" text-anchor="middle">GeneRatio</text>
<text class="tt" x="634" y="691">Count</text>
<g fill="#000"><circle cx="643.6" cy="704" r="4.4"/><circle cx="643.6" cy="720" r="4.9"/><circle cx="643.6" cy="736.7" r="5.4"/><circle cx="643.6" cy="754" r="5.9"/></g>
<text class="lg" x="655" y="707">10</text>
<text class="lg" x="655" y="723">15</text>
<text class="lg" x="655" y="739.7">20</text>
<text class="lg" x="655" y="757">25</text>
<text class="tt" x="634" y="783">p.adjust</text>
<rect x="634" y="787" width="14" height="75" fill="url(#gradB)"/>
<g class="cbt"><line x1="634" y1="816.7" x2="637" y2="816.7"/><line x1="645" y1="816.7" x2="648" y2="816.7"/><line x1="634" y1="841.7" x2="637" y2="841.7"/><line x1="645" y1="841.7" x2="648" y2="841.7"/></g>
<text class="lg" x="652" y="819.5">5e-07</text>
<text class="lg" x="652" y="844.5">1e-06</text>
</g>

<g id="panel-c">
<rect x="390.4" y="900.7" width="229.5" height="320.3" fill="#fff"/>
<g class="gridm"><line x1="396" y1="900.7" x2="396" y2="1221"/><line x1="446.4" y1="900.7" x2="446.4" y2="1221"/><line x1="496.9" y1="900.7" x2="496.9" y2="1221"/><line x1="547.4" y1="900.7" x2="547.4" y2="1221"/><line x1="597.9" y1="900.7" x2="597.9" y2="1221"/></g>
<g class="grid">
<line x1="421.1" y1="900.7" x2="421.1" y2="1221"/><line x1="471.6" y1="900.7" x2="471.6" y2="1221"/><line x1="522.1" y1="900.7" x2="522.1" y2="1221"/><line x1="572.6" y1="900.7" x2="572.6" y2="1221"/>
<line x1="390.4" y1="920" x2="619.9" y2="920"/><line x1="390.4" y1="951.4" x2="619.9" y2="951.4"/><line x1="390.4" y1="982.8" x2="619.9" y2="982.8"/><line x1="390.4" y1="1014.3" x2="619.9" y2="1014.3"/><line x1="390.4" y1="1045.7" x2="619.9" y2="1045.7"/><line x1="390.4" y1="1077.1" x2="619.9" y2="1077.1"/><line x1="390.4" y1="1108.5" x2="619.9" y2="1108.5"/><line x1="390.4" y1="1139.9" x2="619.9" y2="1139.9"/><line x1="390.4" y1="1171.4" x2="619.9" y2="1171.4"/><line x1="390.4" y1="1202.8" x2="619.9" y2="1202.8"/>
</g>
<circle cx="610.4" cy="920" r="8.2" fill="#b8117f"/>
<circle cx="526.2" cy="951.4" r="7" fill="#c0107c"/>
<circle cx="505.4" cy="982.8" r="6.8" fill="#e3061c"/>
<circle cx="484.1" cy="1014.3" r="6.4" fill="#9a18be"/>
<circle cx="442.4" cy="1045.7" r="5.4" fill="#c4107f"/>
<circle cx="442.4" cy="1077.1" r="5.6" fill="#cd0c6f"/>
<circle cx="442.4" cy="1108.5" r="5.6" fill="#a715b0"/>
<circle cx="421.1" cy="1139.9" r="5.2" fill="#9f17b9"/>
<circle cx="421.1" cy="1171.4" r="5.2" fill="#1a1aff"/>
<circle cx="400.8" cy="1202.8" r="3.4" fill="#b20f98"/>
<rect class="frame" x="390.4" y="900.7" width="229.5" height="320.3"/>
<g class="tick">
<line x1="387" y1="920" x2="390.4" y2="920"/><line x1="387" y1="951.4" x2="390.4" y2="951.4"/><line x1="387" y1="982.8" x2="390.4" y2="982.8"/><line x1="387" y1="1014.3" x2="390.4" y2="1014.3"/><line x1="387" y1="1045.7" x2="390.4" y2="1045.7"/><line x1="387" y1="1077.1" x2="390.4" y2="1077.1"/><line x1="387" y1="1108.5" x2="390.4" y2="1108.5"/><line x1="387" y1="1139.9" x2="390.4" y2="1139.9"/><line x1="387" y1="1171.4" x2="390.4" y2="1171.4"/><line x1="387" y1="1202.8" x2="390.4" y2="1202.8"/>
<line x1="421.1" y1="1221" x2="421.1" y2="1224"/><line x1="471.6" y1="1221" x2="471.6" y2="1224"/><line x1="522.1" y1="1221" x2="522.1" y2="1224"/><line x1="572.6" y1="1221" x2="572.6" y2="1224"/>
</g>
<text class="yl" x="386" y="923.7">Neuroactive ligand−receptor interaction</text>
<text class="yl" x="386" y="955.1">Proteoglycans in cancer</text>
<text class="yl" x="386" y="986.5">AGE−RAGE signaling pathway in diabetic complications</text>
<text class="yl" x="386" y="1018">Hepatitis B</text>
<text class="yl" x="386" y="1049.4">Chagas disease (American trypanosomiasis)</text>
<text class="yl" x="386" y="1080.8">C−type lectin receptor signaling pathway</text>
<text class="yl" x="386" y="1112.2">Serotonergic synapse</text>
<text class="yl" x="386" y="1143.6">IL−17 signaling pathway</text>
<text class="yl" x="386" y="1175.1">Endocrine resistance</text>
<text class="yl" x="386" y="1206.5">Prolactin signaling pathway</text>
<text class="xl" x="421.1" y="1233.5">0.125</text>
<text class="xl" x="471.6" y="1233.5">0.150</text>
<text class="xl" x="522.1" y="1233.5">0.175</text>
<text class="xl" x="572.6" y="1233.5">0.200</text>
<text class="tt" x="505" y="1245.5" text-anchor="middle">GeneRatio</text>
<text class="tt" x="635" y="959">p.adjust</text>
<rect x="635" y="965.7" width="14" height="73.3" fill="url(#gradC)"/>
<g class="cbt"><line x1="635" y1="986.7" x2="638" y2="986.7"/><line x1="646" y1="986.7" x2="649" y2="986.7"/><line x1="635" y1="1007.7" x2="638" y2="1007.7"/><line x1="646" y1="1007.7" x2="649" y2="1007.7"/><line x1="635" y1="1028.7" x2="638" y2="1028.7"/><line x1="646" y1="1028.7" x2="649" y2="1028.7"/></g>
<text class="lg" x="653" y="989.5">1e−08</text>
<text class="lg" x="653" y="1010.5">2e−08</text>
<text class="lg" x="653" y="1031.5">3e−08</text>
<text class="tt" x="635" y="1067">Count</text>
<g fill="#000"><circle cx="643.6" cy="1079.3" r="3"/><circle cx="643.6" cy="1094.3" r="4.7"/><circle cx="643.6" cy="1109.3" r="5.7"/><circle cx="643.6" cy="1125.3" r="6.4"/><circle cx="643.6" cy="1142.7" r="7.3"/><circle cx="643.6" cy="1161.7" r="8.1"/></g>
<text class="lg" x="659" y="1082.1">11</text>
<text class="lg" x="659" y="1097.1">13</text>
<text class="lg" x="659" y="1112.1">15</text>
<text class="lg" x="659" y="1128.1">17</text>
<text class="lg" x="659" y="1145.5">19</text>
<text class="lg" x="659" y="1164.5">21</text>
</g>
</svg>
